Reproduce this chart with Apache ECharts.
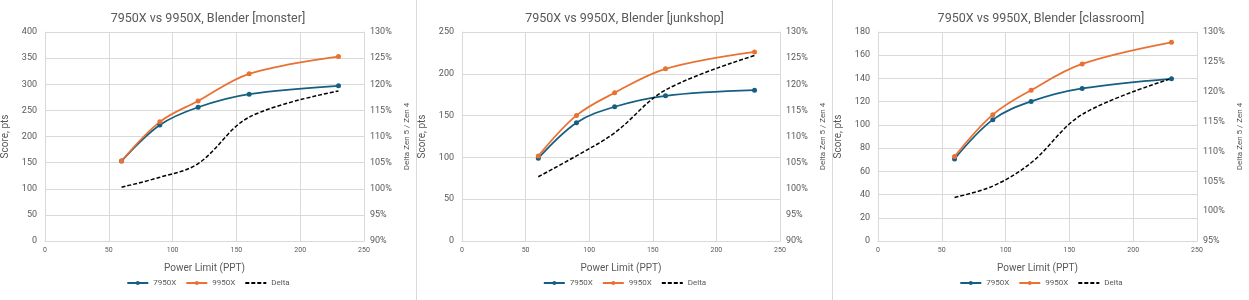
<!DOCTYPE html>
<html>
<head>
<meta charset="utf-8">
<script src="https://cdn.jsdelivr.net/npm/echarts@6/dist/echarts.min.js"></script>
<style>
  html, body { margin: 0; padding: 0; background: #fff; }
  #wrap { position: relative; width: 1249px; height: 300px; }
  .c { position: absolute; top: 0; height: 300px; }
  #c1 { left: 0; width: 416px; border-right: 1px solid #d9d9d9; }
  #c2 { left: 417px; width: 415px; border-right: 1px solid #d9d9d9; }
  #c3 { left: 833px; width: 416px; }
</style>
</head>
<body>
<div id="wrap">
  <div id="c1" class="c"></div>
  <div id="c2" class="c"></div>
  <div id="c3" class="c"></div>
</div>
<script>
// ---- data ----
const powerLimits = [60, 90, 120, 160, 230];
const seriesNames = ['7950X', '9950X', 'Delta'];
const chartTitles = [
  '7950X vs 9950X, Blender [monster]',
  '7950X vs 9950X, Blender [junkshop]',
  '7950X vs 9950X, Blender [classroom]'
];
const monster7950X = [153, 222, 256, 281, 297];
const monster9950X = [153, 228, 268, 320, 353];
const monsterDelta = [100.3, 102.2, 104.8, 113.7, 118.7];
const junkshop7950X = [99, 141.5, 160.6, 173.7, 180.4];
const junkshop9950X = [101.7, 150.2, 177.3, 205.9, 226.2];
const junkshopDelta = [102.3, 106.3, 110.7, 118.9, 125.5];
const classroom7950X = [70.7, 104.5, 120.2, 131.4, 139.7];
const classroom9950X = [72.7, 108.8, 129.9, 152.5, 171.1];
const classroomDelta = [102.3, 104.2, 108.1, 116.2, 122.2];
// axis ranges [min, max, interval]
const xRange = [0, 250, 50];
const leftRanges = [[0, 400, 50], [0, 250, 50], [0, 180, 20]];
const rightRanges = [[90, 130, 5], [90, 130, 5], [95, 130, 5]];

const BLUE = '#156082', ORANGE = '#E97132';
const TXT = '#595959', GRID = '#d9d9d9';
const FONT = 'Roboto';

function pairs(vals) { return powerLimits.map((x, i) => [x, vals[i]]); }

function build(el, idx, a, b, d) {
  const chart = echarts.init(document.getElementById(el), null, { renderer: 'canvas' });
  const L = leftRanges[idx], R = rightRanges[idx];
  chart.setOption({
    animation: false,
    textStyle: { fontFamily: FONT },
    title: {
      text: chartTitles[idx], left: 'center', top: 7,
      textStyle: { fontFamily: FONT, fontSize: 12.5, fontWeight: 'normal', color: TXT }
    },
    legend: {
      bottom: 8, left: 'center', itemWidth: 21, itemHeight: 5, itemGap: 9,
      textStyle: { fontFamily: FONT, fontSize: 8, color: TXT },
      data: [
        { name: seriesNames[0] },
        { name: seriesNames[1] },
        { name: seriesNames[2], itemStyle: { opacity: 0 } }
      ]
    },
    grid: { left: 45, right: 52, top: 32, bottom: 59, outerBoundsMode: 'none', containLabel: false },
    xAxis: {
      type: 'value', min: xRange[0], max: xRange[1], interval: xRange[2],
      name: 'Power Limit (PPT)', nameLocation: 'middle', nameGap: 22,
      nameTextStyle: { fontFamily: FONT, fontSize: 10, color: TXT },
      axisLine: { show: true, lineStyle: { color: GRID } },
      axisTick: { show: false },
      axisLabel: { fontSize: 7, color: TXT, margin: 6 },
      splitLine: { show: true, lineStyle: { color: GRID } }
    },
    yAxis: [{
      type: 'value', min: L[0], max: L[1], interval: L[2],
      name: 'Score, pts', nameLocation: 'middle', nameGap: 30,
      nameTextStyle: { fontFamily: FONT, fontSize: 10, color: TXT },
      axisLine: { show: true, lineStyle: { color: GRID } },
      axisTick: { show: false },
      axisLabel: { fontSize: 9, color: TXT, margin: 8 },
      splitLine: { show: true, lineStyle: { color: GRID } }
    }, {
      type: 'value', min: R[0], max: R[1], interval: R[2], position: 'right',
      name: 'Delta Zen 5 / Zen 4', nameLocation: 'middle', nameGap: 37, nameRotate: 90,
      nameTextStyle: { fontFamily: FONT, fontSize: 8, color: TXT },
      axisLine: { show: true, lineStyle: { color: GRID } },
      axisTick: { show: false },
      axisLabel: { fontSize: 9, color: TXT, margin: 6, formatter: v => v + '%' },
      splitLine: { show: false }
    }],
    series: [{
      name: seriesNames[0], type: 'line', yAxisIndex: 0, data: pairs(a), smooth: 0.35,
      symbol: 'circle', symbolSize: 5, color: BLUE,
      lineStyle: { width: 1.75, color: BLUE }, itemStyle: { color: BLUE }
    }, {
      name: seriesNames[1], type: 'line', yAxisIndex: 0, data: pairs(b), smooth: 0.35,
      symbol: 'circle', symbolSize: 5, color: ORANGE,
      lineStyle: { width: 1.75, color: ORANGE }, itemStyle: { color: ORANGE }
    }, {
      name: seriesNames[2], type: 'line', yAxisIndex: 1, data: pairs(d), smooth: 0.35,
      symbol: 'none', color: '#000',
      lineStyle: { width: 1.5, color: '#000', type: [4, 2] }, itemStyle: { color: '#000' }
    }]
  });
}

build('c1', 0, monster7950X, monster9950X, monsterDelta);
build('c2', 1, junkshop7950X, junkshop9950X, junkshopDelta);
build('c3', 2, classroom7950X, classroom9950X, classroomDelta);
</script>
</body>
</html>
